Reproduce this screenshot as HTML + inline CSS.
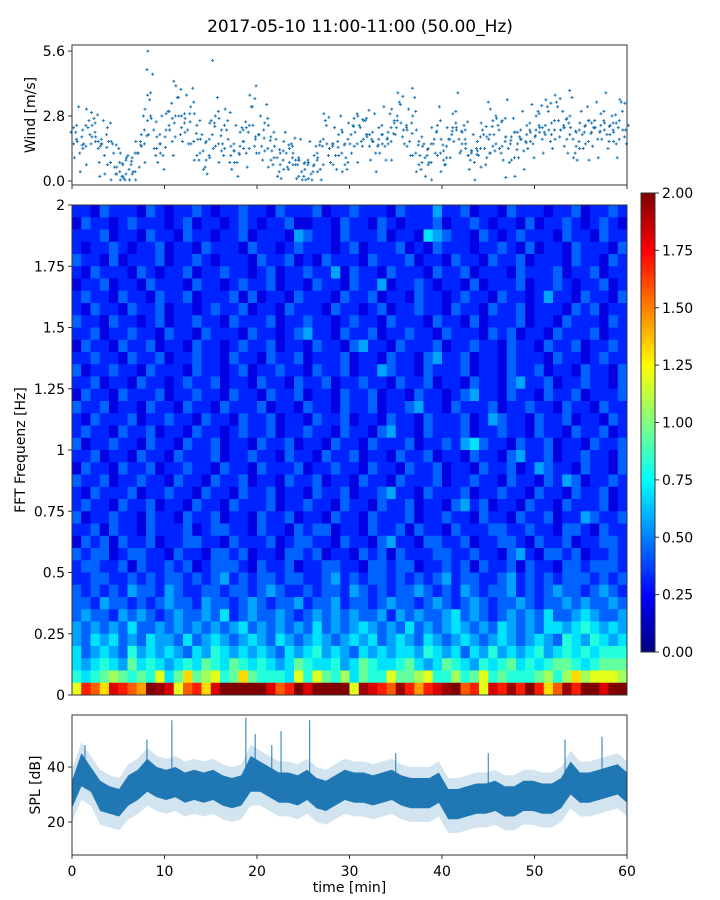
<!DOCTYPE html>
<html><head><meta charset="utf-8"><style>
body{margin:0;background:#fff;width:720px;height:900px;overflow:hidden}
svg{display:block;font-family:"DejaVu Sans","Liberation Sans",sans-serif}
</style></head><body>
<svg id="c" width="720" height="900"></svg>
<script>
// ---- data ----
const windMinutes = 60;
const windValues = [1.6,2.4,1.2, 2.2,1.5,2.6, 1.9,2.5,1.4, 1.8,1.1,2.3, 0.8,1.2,0.6, 0.4,0.7,0.3, 0.5,1.0,0.4, 1.2,2.0,1.6, 2.6,3.8,2.2, 1.4,2.0,1.1,
2.2,3.0,1.7, 2.8,3.6,2.3, 2.9,2.2,3.2, 1.7,2.4,1.2, 1.3,0.9,1.8, 2.0,2.8,1.6, 2.2,1.4,2.6, 1.1,1.6,0.8, 1.5,2.2,1.2, 2.4,3.2,1.8,
2.0,1.5,2.5, 1.4,1.9,1.0, 1.0,0.7,1.3, 1.2,0.8,1.5, 0.7,1.0,0.4, 0.5,0.9,0.3, 0.7,1.2,0.5, 1.8,2.4,1.4, 1.5,1.1,2.0, 1.2,1.6,0.8,
2.0,2.7,1.6, 2.3,1.8,2.7, 1.5,2.1,1.2, 1.8,2.4,1.5, 2.1,1.7,2.6, 2.6,3.3,2.2, 2.3,1.7,2.8, 1.2,1.7,0.8, 1.0,1.4,0.8, 1.8,2.4,1.2,
1.3,1.0,1.8, 2.3,3.0,1.8, 1.6,2.2,1.1, 1.2,0.8,1.7, 1.4,2.0,1.0, 2.0,2.6,1.6, 2.2,1.5,2.7, 1.4,1.9,1.0, 1.6,2.2,1.3, 2.0,2.5,1.6,
2.2,2.9,1.8, 2.4,3.0,2.0, 2.6,3.2,2.2, 2.3,1.8,2.8, 1.8,1.5,2.2, 2.0,2.4,1.7, 2.1,2.6,1.8, 2.4,3.0,2.0, 2.0,2.5,1.6, 2.6,3.0,2.2];
const windOutliers = [[8.2,5.6],[8.1,4.8],[15.2,5.2],[11.0,4.3],[19.9,4.1],[36.8,4.0],[53.8,3.9],[45.0,3.4],[3.0,0.2],[46.9,0.15],[24.5,0.2],[5.4,0.2]];
const windTicks = [0.0, 2.8, 5.6];
const freqTicks = [0,0.25,0.5,0.75,1,1.25,1.5,1.75,2];
const freqTickLabels = ["0","0.25","0.5","0.75","1","1.25","1.5","1.75","2"];
const cbTicks = [0,0.25,0.5,0.75,1,1.25,1.5,1.75,2];
const timeTicks = [0,10,20,30,40,50,60];
const splTicks = [20,40];
// spectrogram grid: row strings from top (1.95-2 Hz) to bottom (0-0.05 Hz)
const specRows = [
"221322213212232122322132223122322213222422312213222122312232",
"132212322212312212321223112213221321222312232122131223212321",
"222312213221322122312221432213222312215432213212322213221322",
"212232122312213222132212322212312223121322212232131221322213",
"322131222312232122213223121322213222312213221322312221322132",
"213222132122312232212312232241322132221322312221322231223122",
"122312213222132212322312213221322412232122131222312232122312",
"232213221322312223131221322213223122132212322132212422132213",
"213221322312212322312213222132212312232213221322312221323122",
"322132212312232213222312232212322132221322131222312213222132",
"223122322132213222132212342213223122322132221323122132223122",
"132213223122132212322312213221342213222312232213221322312232",
"223221322312232213221322312223122132213422312213222132212322",
"312232213222132212312232213223122432213222312213223122132213",
"223122132212322312213221322312232213223122132213422312232213",
"132213222312232213221322312213223122132212342213221322312223",
"322312213221322132223122132213223122342213222312232213221322",
"213222312232213221322312213223122132213222312432213223122132",
"232213223122132212322312232213221342213222312232213221322312",
"312232213221322312213223122132213222312232453221322312213223",
"223122132213222312232213221322312213223122132213422312232213",
"132213223122322132213222312232213221322312213223124322132213",
"322312232213221322312213223122132213222312232213221324312232",
"213222312232213221322312213223122342213222312232213221322312",
"232213223122132213222312232213221322312213423122132213222312",
"312232213221322312213223122132213222312232213221322312243223",
"223132213222312332213221323312213223132213222332232213321322",
"132313223122332213222312332213221342213322312233213223122332",
"323312332213221332312213323122132313222332232213421332312232",
"233223132232312333213223122332213323312232313223132213323332",
"223322323233232342323323322342323323232342332234232323332323",
"323232433243223323323432232332432323343232432334232343323432",
"332433232343324332343233423342332343323432343233432334343343",
"343324343234334352343343234343433424343345343234343533454334",
"434343533434343434534343435343454343534345434354343554565454",
"435453435443534543454354345434545345435434543454345436546545",
"534543645454354654545435456454354545546545354645456456565666",
"545654756545657657656545765564576556754576546567565677656777",
"656787676957a78967a76665969768576697789668679676667868a89998",
"9dcaedcbgfe9cdaegggggecdgegggg9fedcfdbdefgcd9edfdgdacfdggegg"];
const splLo = [25,33,31,24,23,22,26,28,31,29,28,29,27,28,27,28,26,25,26,31,31,29,27,27,26,28,25,24,26,28,27,27,26,27,28,26,25,25,25,27,21,21,22,23,23,24,22,22,24,24,23,23,25,30,27,27,28,29,30,27];
const splHi = [35,45,40,35,33,32,37,39,43,40,39,40,38,39,38,39,37,36,37,44,42,40,38,38,37,39,36,35,37,39,38,38,37,38,39,37,36,36,36,38,32,32,33,34,34,35,33,33,35,35,34,34,36,42,38,38,39,40,41,38];
const splSpikes = [[1.4,48],[8.1,50],[10.8,57],[18.8,58],[19.8,52],[21.6,48],[25.7,57],[22.6,53],[53.3,50],[57.3,51],[45.0,45],[35.0,45]];
// ---- helpers ----
const NS="http://www.w3.org/2000/svg", svg=document.getElementById('c');
function mk(t,a,p){const e=document.createElementNS(NS,t);for(const k in a)e.setAttribute(k,a[k]);(p||svg).appendChild(e);return e;}
const X0=72,X1=627;
const xT=m=>X0+(X1-X0)*m/60;
const yW=v=>181-v*23.2;
const yF=f=>695-f*245;
const yS=d=>767-(d-40)*2.75;
function txt(x,y,s,anchor,size,name,p){const t=mk('text',{x:x,y:y,'text-anchor':anchor,'font-size':size,fill:'#000'},p);t.textContent=s;return t;}
function jet(v){let t=Math.max(0,Math.min(1,v/2));const c=q=>Math.round(255*Math.max(0,Math.min(1,q)));return `rgb(${c(1.5-Math.abs(4*t-3))},${c(1.5-Math.abs(4*t-2))},${c(1.5-Math.abs(4*t-1))})`;}
txt(360,32,"2017-05-10 11:00-11:00 (50.00_Hz)","middle",17,"chart-title");
// ---- wind panel ----
const gw=mk('g',{});
const per=windValues.length/windMinutes;
const jx=[-2.5,1,3,-1,2,-3,0.5,2.5], jy=[0.5,-0.6,0.2,-0.3,0.8,-0.1,-0.8,0.35];
function plus(x,y,name){const p=mk('path',{d:`M${x-1.5},${y}h3M${x},${y-1.5}v3`,stroke:'#1f77b4','stroke-width':1},gw);}
windValues.forEach((v,i)=>{const x=xT((i+0.5)/per);
 plus(x,yW(v),'wind-point');
 for(let k=0;k<3;k++){const j=(i*3+k)%8;plus(x+jx[j],yW(Math.max(0.05,v+jy[j])),'wind-point-jitter');}});
windOutliers.forEach(o=>plus(xT(o[0]),yW(o[1]),'wind-outlier'));
mk('rect',{x:X0,y:45,width:X1-X0,height:140,fill:'none',stroke:'#333','stroke-width':1},gw);
windTicks.forEach(v=>{mk('line',{x1:X0-4,x2:X0,y1:yW(v),y2:yW(v),stroke:'#333'},gw);txt(X0-7,yW(v)+5,v.toFixed(1),"end",14,"wind-tick-label",gw);});
timeTicks.forEach(m=>mk('line',{x1:xT(m),x2:xT(m),y1:185,y2:189,stroke:'#333'},gw));
const wl=txt(0,0,"Wind [m/s]","middle",14,"wind-axis-title",gw);wl.setAttribute('transform','translate(35,115) rotate(-90)');
// ---- spectrogram ----
const gs=mk('g',{});
const codes="0123456789abcdefg";
const nR=specRows.length,nC=60,fStep=2/nR,tStep=60/nC;
specRows.forEach((row,ri)=>{const fTop=2-ri*fStep;
 for(let c=0;c<nC;c++){const ch=row.charAt(c)||'2';const v=codes.indexOf(ch)*0.125+0.07;
  const x=xT(c*tStep),y=yF(fTop);
  const r=mk('rect',{x:x,y:y,width:xT((c+1)*tStep)-x+0.3,height:yF(fTop-fStep)-y+0.3,fill:jet(v)},gs);
  }});
mk('rect',{x:X0,y:205,width:X1-X0,height:490,fill:'none',stroke:'#333'},gs);
freqTicks.forEach((f,i)=>{mk('line',{x1:X0-4,x2:X0,y1:yF(f),y2:yF(f),stroke:'#333'},gs);txt(X0-7,yF(f)+5,freqTickLabels[i],"end",14,"freq-tick-label",gs);});
const fl=txt(0,0,"FFT Frequenz [Hz]","middle",14,"freq-axis-title",gs);fl.setAttribute('transform','translate(25,450) rotate(-90)');
// colorbar
const gc=mk('g',{});
const CB0=652,CB1=193,yC=v=>CB0-(CB0-CB1)*v/2;
for(let i=0;i<200;i++){const v=i/200*2;mk('rect',{x:641,y:yC(v+0.01),width:14,height:(CB0-CB1)/200+0.5,fill:jet(v+0.005)},gc);}
mk('rect',{x:641,y:CB1,width:14,height:CB0-CB1,fill:'none',stroke:'#333'},gc);
cbTicks.forEach(v=>{mk('line',{x1:655,x2:659,y1:yC(v),y2:yC(v),stroke:'#333'},gc);txt(662,yC(v)+5,v.toFixed(2),"start",14,"colorbar-tick-label",gc);});
// ---- SPL panel ----
const gp=mk('g',{});
const cp=mk('clipPath',{id:'cp'},gp);mk('rect',{x:X0,y:715,width:X1-X0,height:140},cp);
const gi=mk('g',{'clip-path':'url(#cp)'},gp);
function band(lo,hi,dl,dh){let d='';const n=lo.length;
 for(let i=0;i<n;i++){const x=xT(i*60/(n-1));d+=(i?'L':'M')+x+','+yS(hi[i]+dh);}
 for(let i=n-1;i>=0;i--){const x=xT(i*60/(n-1));d+='L'+x+','+yS(lo[i]-dl);}return d+'Z';}
const lb=mk('path',{d:band(splLo,splHi,5,4),fill:'#1f77b4',opacity:0.2},gi);
const db=mk('path',{d:band(splLo,splHi,0,0),fill:'#1f77b4'},gi);
splSpikes.forEach(s=>{const x=xT(s[0]);const l=mk('line',{x1:x,x2:x,y1:yS(s[1]),y2:yS(34),stroke:'#1f77b4','stroke-width':1},gi);
 });
mk('rect',{x:X0,y:715,width:X1-X0,height:140,fill:'none',stroke:'#333'},gp);
splTicks.forEach(v=>{mk('line',{x1:X0-4,x2:X0,y1:yS(v),y2:yS(v),stroke:'#333'},gp);txt(X0-7,yS(v)+5,String(v),"end",14,"spl-tick-label",gp);});
timeTicks.forEach(m=>{mk('line',{x1:xT(m),x2:xT(m),y1:855,y2:859,stroke:'#333'},gp);txt(xT(m),876,String(m),"middle",14,"time-tick-label",gp);});
const sl=txt(0,0,"SPL [dB]","middle",14,"spl-axis-title",gp);sl.setAttribute('transform','translate(40,785) rotate(-90)');
txt(349.5,892,"time [min]","middle",14,"time-axis-title",gp);
</script>
</body></html>
